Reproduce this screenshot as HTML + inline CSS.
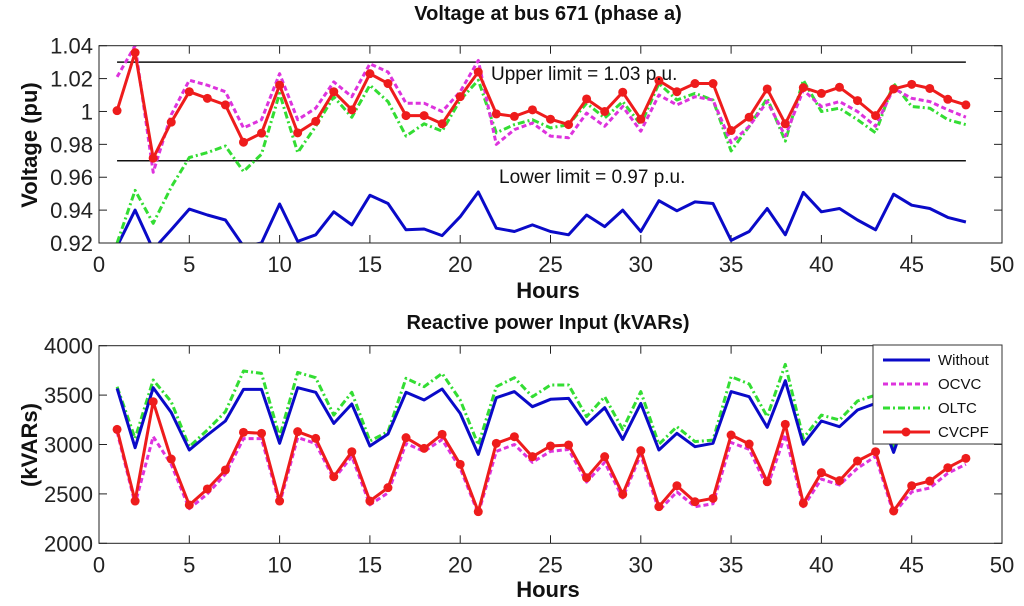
<!DOCTYPE html>
<html><head><meta charset="utf-8"><style>
html,body{margin:0;padding:0;background:#fff;}
svg{display:block;font-family:"Liberation Sans",Arial,sans-serif;}
</style></head><body>
<svg id="chart" width="1024" height="606" viewBox="0 0 1024 606" xmlns="http://www.w3.org/2000/svg"></svg>
<script>
const hours = Array.from({length:48},(_,i)=>i+1);
const vWithout = [0.918,0.940,0.916,0.928,0.9406,0.937,0.934,0.918,0.920,0.9437,0.921,0.925,0.939,0.931,0.949,0.944,0.928,0.9285,0.9245,0.936,0.951,0.929,0.927,0.931,0.927,0.925,0.937,0.930,0.940,0.927,0.9457,0.9396,0.945,0.944,0.9216,0.927,0.941,0.925,0.9508,0.939,0.941,0.934,0.928,0.9497,0.943,0.941,0.9356,0.9328];
const vOCVC = [1.021,1.040,0.963,0.998,1.019,1.016,1.012,0.990,0.995,1.023,0.995,1.002,1.018,1.009,1.029,1.024,1.005,1.005,1.000,1.012,1.031,0.980,0.989,0.993,0.985,0.984,0.999,0.991,1.003,0.988,1.010,1.004,1.009,1.007,0.981,0.991,1.006,0.985,1.013,1.003,1.006,1.000,0.991,1.014,1.008,1.006,1.001,0.9965];
const vOLTC = [0.920,0.952,0.932,0.954,0.972,0.975,0.979,0.9635,0.974,1.011,0.975,0.991,1.009,0.9965,1.016,1.006,0.985,0.9925,0.988,1.007,1.019,0.987,0.992,0.995,0.990,0.992,1.005,0.996,1.006,0.992,1.017,1.007,1.011,1.007,0.976,0.991,1.008,0.982,1.019,1.000,1.002,0.995,0.987,1.017,1.003,1.002,0.995,0.992];
const vCVCPF = [1.0005,1.0358,0.9716,0.9935,1.012,1.008,1.004,0.9813,0.9868,1.016,0.987,0.994,1.012,1.001,1.023,1.017,0.9975,0.9975,0.9925,1.009,1.024,0.9985,0.997,1.001,0.9953,0.992,1.0076,1.000,1.0117,0.9953,1.0188,1.012,1.017,1.017,0.9884,0.9965,1.0137,0.9925,1.0145,1.011,1.0147,1.0066,0.9975,1.0137,1.0165,1.014,1.0074,1.004];
const qWithout = [3568,2968,3575,3325,2944,3096,3238,3558,3558,3012,3575,3528,3214,3410,2985,3106,3528,3450,3562,3315,2900,3474,3535,3383,3457,3467,3204,3373,3052,3416,2944,3113,2978,3012,3535,3484,3174,3646,3002,3238,3180,3349,3416,2920,3450,3500,3500,3500];
const qOCVC = [3130,2400,3080,2800,2350,2500,2700,3060,3060,2400,3070,3010,2650,2880,2390,2510,3010,2930,3050,2760,2300,2930,3000,2820,2930,2950,2620,2820,2460,2900,2330,2520,2370,2400,3020,2950,2570,3100,2370,2650,2590,2760,2880,2300,2520,2560,2710,2800];
const qOLTC = [3585,3062,3653,3433,2978,3147,3332,3744,3720,3079,3730,3676,3298,3528,3035,3130,3670,3585,3720,3450,2995,3585,3676,3484,3602,3602,3282,3484,3153,3535,3002,3180,3029,3045,3686,3612,3282,3811,3062,3298,3248,3440,3500,2944,3600,3600,3600,3600];
const qCVCPF = [3153,2428,3433,2853,2388,2550,2742,3123,3113,2428,3130,3062,2674,2927,2428,2563,3069,2961,3103,2799,2320,3012,3079,2877,2985,2995,2664,2877,2496,2938,2371,2583,2421,2455,3096,3005,2623,3204,2405,2715,2634,2833,2927,2327,2583,2630,2765,2860];
const xTicks = [0,5,10,15,20,25,30,35,40,45,50];
const vTicks = [0.92,0.94,0.96,0.98,1,1.02,1.04];
const vTickLabels = ["0.92","0.94","0.96","0.98","1","1.02","1.04"];
const qTicks = [2000,2500,3000,3500,4000];
const qTickLabels = ["2000","2500","3000","3500","4000"];
const limits = [1.03,0.97];

const NS="http://www.w3.org/2000/svg";
const svg=document.getElementById('chart');
function el(tag,attrs,parent){const e=document.createElementNS(NS,tag);for(const k in attrs)e.setAttribute(k,attrs[k]);(parent||svg).appendChild(e);return e;}
const X0=99,X1=1002;
const xs=h=>X0+(h/50)*(X1-X0);

function panel(top,bot,ymin,ymax,ticks,labels,name){
  const ys=v=>bot-(v-ymin)/(ymax-ymin)*(bot-top);
  const g=el('g',{});
  
  
  const cid='clip-'+name;
  const cp=el('clipPath',{id:cid},g);
  el('rect',{x:X0,y:top,width:X1-X0,height:bot-top},cp);
  el('rect',{x:X0,y:top,width:X1-X0,height:bot-top,fill:'#fff',stroke:'none'},g);
  xTicks.forEach(t=>{
    const x=xs(t);
    el('line',{x1:x,y1:bot,x2:x,y2:bot-8,stroke:'#222','stroke-width':1},g);
    el('line',{x1:x,y1:top,x2:x,y2:top+8,stroke:'#222','stroke-width':1},g);
    const tx=el('text',{x:x,y:bot+29,'text-anchor':'middle','font-size':22,fill:'#222'},g);
    tx.textContent=t;
    
    
  });
  ticks.forEach((t,i)=>{
    const y=ys(t);
    el('line',{x1:X0,y1:y,x2:X0+8,y2:y,stroke:'#222','stroke-width':1},g);
    el('line',{x1:X1,y1:y,x2:X1-8,y2:y,stroke:'#222','stroke-width':1},g);
    const tx=el('text',{x:93,y:y+8,'text-anchor':'end','font-size':22,fill:'#222'},g);
    tx.textContent=labels[i];
    
    
  });
  const plot=el('g',{'clip-path':'url(#'+cid+')'},g);
  return {ys,plot,g};
}
function series(p,vals,color,dash,width,name,markers){
  const pts=hours.map((h,i)=>xs(h).toFixed(1)+','+p.ys(vals[i]).toFixed(1)).join(' ');
  const pl=el('polyline',{points:pts,fill:'none',stroke:color,'stroke-width':width,'stroke-dasharray':dash||'none','stroke-linejoin':'round'},p.plot);
  
  
  if(markers){hours.forEach((h,i)=>{
    const c=el('circle',{cx:xs(h),cy:p.ys(vals[i]),r:4.5,fill:color},p.plot);
    
    
  });}
}
function txt(x,y,s,size,bold,name,anchor,rot){
  const t=el('text',{x:x,y:y,'font-size':size,'font-weight':bold?'bold':'normal','text-anchor':anchor||'middle',fill:'#111'});
  if(rot)t.setAttribute('transform','rotate(-90 '+x+' '+y+')');
  t.textContent=s;
  
  
  return t;
}

// Top panel
const p1=panel(45.7,243,0.92,1.04,vTicks,vTickLabels,'voltage-panel');
limits.forEach(v=>{
  const l=el('line',{x1:xs(1),x2:xs(48),y1:p1.ys(v),y2:p1.ys(v),stroke:'#111','stroke-width':1.5},p1.plot);
  
  
});
series(p1,vWithout,'#0a0ac8',null,3,'voltage-without');
series(p1,vOLTC,'#33dd33','7,3,2,3',3,'voltage-oltc');
series(p1,vOCVC,'#dd33dd','5,3',3,'voltage-ocvc');
series(p1,vCVCPF,'#ee1c1c',null,3,'voltage-cvcpf',true);
el('rect',{x:X0,y:45.7,width:X1-X0,height:243-45.7,fill:'none',stroke:'#222','stroke-width':1});
txt(491,80,'Upper limit = 1.03 p.u.',19,false,'upper-limit-label','start');
txt(499,183,'Lower limit = 0.97 p.u.',19,false,'lower-limit-label','start');
txt(548,20,'Voltage at bus 671 (phase a)',20,true,'top-chart-title');
txt(548,298,'Hours',22,true,'top-x-axis-title');
txt(37,145,'Voltage (pu)',22,true,'top-y-axis-title','middle',true);

// Bottom panel
const p2=panel(345.7,543.3,2000,4000,qTicks,qTickLabels,'reactive-panel');
series(p2,qOLTC,'#33dd33','7,3,2,3',3,'q-oltc');
series(p2,qWithout,'#0a0ac8',null,3,'q-without');
series(p2,qOCVC,'#dd33dd','5,3',3,'q-ocvc');
series(p2,qCVCPF,'#ee1c1c',null,3,'q-cvcpf',true);
el('rect',{x:X0,y:345.7,width:X1-X0,height:543.3-345.7,fill:'none',stroke:'#222','stroke-width':1});
txt(548,329,'Reactive power Input (kVARs)',20,true,'bottom-chart-title');
txt(548,597,'Hours',22,true,'bottom-x-axis-title');
txt(37,445,'(kVARs)',22,true,'bottom-y-axis-title','middle',true);

// Legend
const lg=el('g',{});


el('rect',{x:873,y:345,width:129,height:99,fill:'#fff',stroke:'#333','stroke-width':1},lg);
const legItems=[['Without','#0a0ac8',null,false],['OCVC','#dd33dd','5,3',false],['OLTC','#33dd33','7,3,2,3',false],['CVCPF','#ee1c1c',null,true]];
legItems.forEach((it,i)=>{
  const y=360+i*24;
  const e=el('g',{},lg);
  
  
  el('line',{x1:883,x2:930,y1:y,y2:y,stroke:it[1],'stroke-width':3,'stroke-dasharray':it[2]||'none'},e);
  if(it[3])el('circle',{cx:906,cy:y,r:4.5,fill:it[1]},e);
  const t=el('text',{x:938,y:y+5,'font-size':15,fill:'#111'},e);
  t.textContent=it[0];
});
</script>
</body></html>
